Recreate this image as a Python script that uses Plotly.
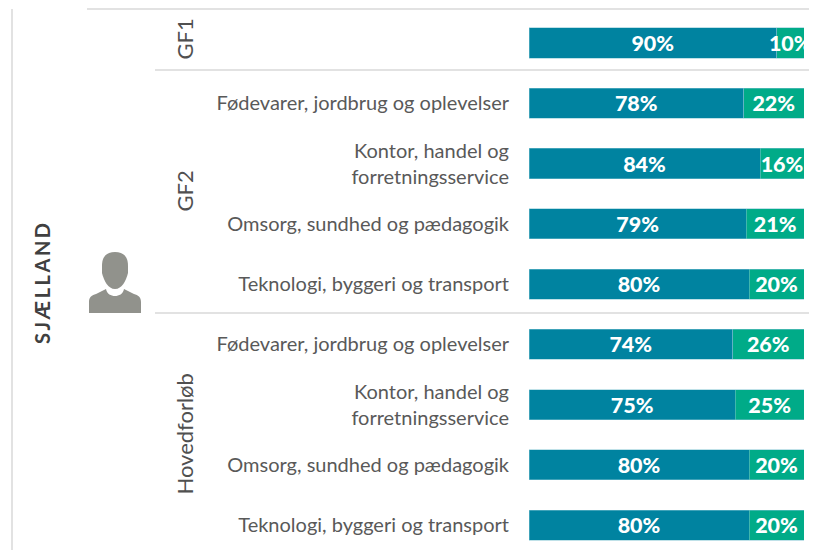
import plotly.graph_objects as go

# The page has an 8px body margin, so the figure is offset by that amount.
OFFSET = 8
W, H = 817 - OFFSET, 550 - OFFSET
region = "SJÆLLAND"
groups = ["GF1", "GF2", "Hovedforløb"]
group_centers = [39.5, 191.5, 434.5]
categories = ["", "Fødevarer, jordbrug og oplevelser", "Kontor, handel og<br>forretningsservice",
              "Omsorg, sundhed og pædagogik", "Teknologi, byggeri og transport",
              "Fødevarer, jordbrug og oplevelser", "Kontor, handel og<br>forretningsservice",
              "Omsorg, sundhed og pædagogik", "Teknologi, byggeri og transport"]
values_a = [90, 78, 84, 79, 80, 74, 75, 80, 80]
values_b = [10, 22, 16, 21, 20, 26, 25, 20, 20]
TEAL, GREEN = "#0083A0", "#00AB88"
FONT = "Lato"
rows = list(range(len(categories)))


def px(x):
    return (x - OFFSET) / W


def py(y):
    return 1 - (y - OFFSET) / H


def path(*parts):
    out = []
    for cmd, *pts in parts:
        coords = " ".join(f"{px(pts[i]):.5f},{py(pts[i+1]):.5f}" for i in range(0, len(pts), 2))
        out.append(f"{cmd} {coords}")
    return " ".join(out) + " Z"


fig = go.Figure()
for vals, col in ((values_a, TEAL), (values_b, GREEN)):
    fig.add_bar(y=rows, x=vals, orientation="h", width=0.5, marker=dict(color=col, line=dict(color="#7FC4D2", width=0.5)),
                texttemplate="%{x}%", textposition="inside", insidetextanchor="middle", constraintext="none",
                textangle=0, cliponaxis=True,
                textfont=dict(family=FONT, size=21.5, color="white", weight=900))

shapes = []
for x0, y0, x1, y1 in ((12, 9, 12, 550), (87, 9, 817, 9), (155, 70, 817, 70), (155, 313, 817, 313)):
    shapes.append(dict(type="line", xref="paper", yref="paper", x0=px(x0), x1=px(x1), y0=py(y0), y1=py(y1),
                       line=dict(color="#D9D9D9", width=1.5), layer="below"))
ICON = "#91928C"
shapes.append(dict(type="path", xref="paper", yref="paper", fillcolor=ICON, line=dict(width=0),
                   path=path(("M", 102, 266), ("C", 102, 256, 107, 252, 115, 252), ("C", 123, 252, 128, 256, 128, 266),
                             ("L", 128, 273), ("C", 126, 281, 122, 289, 115, 289), ("C", 108, 289, 104, 281, 102, 273))))
shapes.append(dict(type="path", xref="paper", yref="paper", fillcolor=ICON, line=dict(width=0),
                   path=path(("M", 89, 313), ("L", 89, 302), ("C", 89, 297, 92, 295, 96, 294), ("L", 106, 289),
                             ("C", 107, 294, 111, 296, 115, 296), ("C", 119, 296, 123, 294, 124, 289), ("L", 134, 294),
                             ("C", 138, 295, 141, 297, 141, 302), ("L", 141, 313))))

annotations = []
for g, c in zip(groups, group_centers):
    annotations.append(dict(text=g, xref="paper", yref="paper", x=px(184), y=py(c), textangle=-90, showarrow=False,
                            xanchor="center", yanchor="middle", font=dict(family=FONT, size=22, color="#505050")))
annotations.append(dict(text="\u2009".join(region), xref="paper", yref="paper", x=px(42), y=py(284), textangle=-90, showarrow=False,
                        xanchor="center", yanchor="middle", font=dict(family=FONT, size=20, color="#404040", weight="bold")))

fig.update_layout(
    width=W, height=H, margin=dict(l=0, r=0, t=0, b=0), autosize=False, barmode="stack",
    paper_bgcolor="white", plot_bgcolor="white", showlegend=False, shapes=shapes, annotations=annotations,
    xaxis=dict(domain=[px(529), px(804)], range=[0, 100], visible=False),
    yaxis=dict(domain=[py(548), py(10)], range=[8.38, -0.548], tickmode="array", tickvals=rows, ticktext=categories,
               showgrid=False, zeroline=False, showline=False, ticks="", ticklabelstandoff=19,
               tickfont=dict(family=FONT, size=20, color="#595959")),
)
fig.write_html("out.html")
